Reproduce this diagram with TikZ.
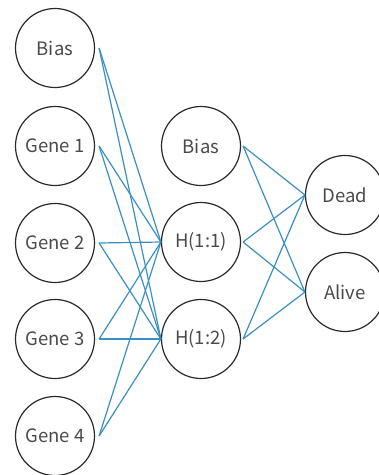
\documentclass[tikz,border=0pt]{standalone}
\usepackage{fontspec}
\setmainfont{Noto Sans CJK JP}
\definecolor{edgeblue}{HTML}{3A8FC2}
\definecolor{ringgray}{HTML}{2A2A2A}
\begin{document}
\begin{tikzpicture}[x=1pt,y=-1pt,
  neuron/.style={circle,draw=ringgray,line width=1.2pt,minimum size=79pt,inner sep=0pt,
    text=ringgray!85,font=\fontsize{18.5}{21}\selectfont},
  link/.style={draw=edgeblue,line width=1.2pt}]
\clip (0,0) rectangle (379,475);
% input layer
\node[neuron] (b0) at (55,48) {Bias};
\node[neuron] (g1) at (55,146) {Gene 1};
\node[neuron] (g2) at (55,243) {Gene 2};
\node[neuron] (g3) at (55,339) {Gene 3};
\node[neuron] (g4) at (55,436) {Gene 4};
% hidden layer
\node[neuron] (b1) at (201,146) {Bias};
\node[neuron] (h1) at (201,242) {H(1:1)};
\node[neuron] (h2) at (201,339) {H(1:2)};
% output layer
\node[neuron] (dead) at (345,195) {Dead};
\node[neuron] (alive) at (345,292) {Alive};
% input -> hidden
\foreach \s in {b0,g1,g2,g3,g4}
  \foreach \t in {h1,h2}
    \draw[link] ([xshift=4pt]\s.east) -- (\t.west);
% hidden -> output
\foreach \s in {b1,h1,h2}
  \foreach \t in {dead,alive}
    \draw[link] ([xshift=2pt]\s.east) -- (\t.west);
\end{tikzpicture}
\end{document}
